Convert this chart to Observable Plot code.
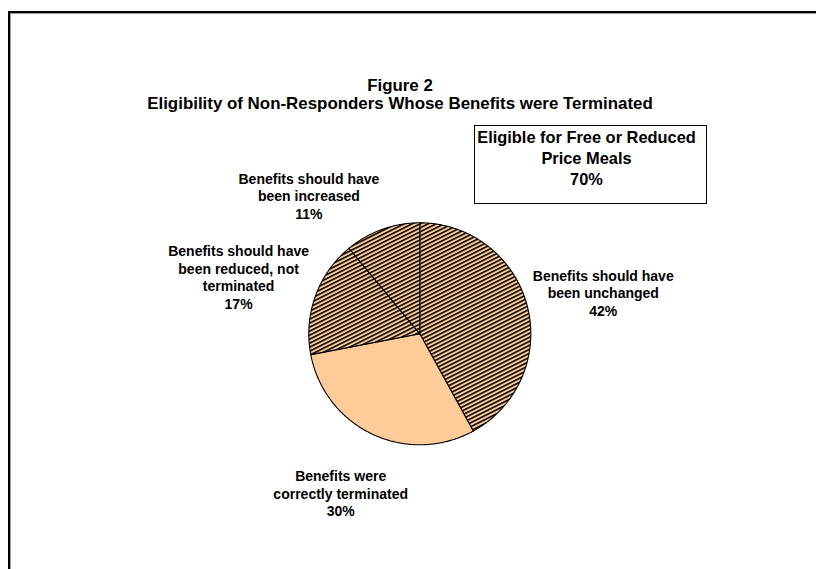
<!DOCTYPE html>
<html>
<head>
<meta charset="utf-8">
<script src="https://cdn.jsdelivr.net/npm/d3@7"></script>
<script src="https://cdn.jsdelivr.net/npm/@observablehq/plot@0.6"></script>
<style>
  html, body { margin: 0; padding: 0; background: #fff; overflow: hidden; }
  #wrap { position: relative; width: 816px; height: 569px; overflow: hidden;
          font-family: Arial, "Liberation Sans", sans-serif; color: #000; }
  .edge { position: absolute; background: #000; }
  .edge2 { position: absolute; background: #a0a0a0; }
  #title { position: absolute; left: 0; width: 800px; top: 77px; text-align: center;
           font-weight: bold; font-size: 16.9px; line-height: 17.5px; }
  #box { position: absolute; left: 474px; top: 125px; width: 233px; height: 79px;
         box-sizing: border-box; border: 1.3px solid #000; background: #fff;
         text-align: center; font-weight: bold; font-size: 16.4px; line-height: 21px;
         padding: 1px 8px 0 0; white-space: nowrap; }
  #chart { position: absolute; left: 0; top: 0; }
</style>
</head>
<body>
<div id="wrap">
  <div class="edge" style="left:8px; top:11px; width:808px; height:2px;"></div>
  <div class="edge" style="left:8px; top:11px; width:2px; height:558px;"></div>
  <div class="edge2" style="left:10px; top:13px; width:806px; height:1px;"></div>
  <div class="edge2" style="left:10px; top:13px; width:1px; height:556px;"></div>
  <div id="chart"></div>
  <div id="title"></div>
  <div id="box"></div>
</div>
<script>
// ---- data ----
const titleLines = ["Figure 2", "Eligibility of Non-Responders Whose Benefits were Terminated"];
const boxLines = ["Eligible for Free or Reduced", "Price Meals", "70%"];
const categories = [
  "Benefits should have\nbeen unchanged",
  "Benefits were\ncorrectly terminated",
  "Benefits should have\nbeen reduced, not\nterminated",
  "Benefits should have\nbeen increased"
];
const values = [42, 30, 17, 11];
const hatched = [true, false, true, true];

// ---- layout ----
const W = 816, H = 569;
const cx = 419.3, cy = 333.3, R = 111;
const labelRadius = [188, 178, 190, 177];
const labelAngleShift = [1.8, 1.2, -2.3, -19]; // degrees
const peach = "#FFCC99";

document.getElementById("title").innerHTML = titleLines.join("<br>");
document.getElementById("box").innerHTML = boxLines.join("<br>");

const arcs = d3.pie().sort(null).value(d => d)(values);
const toXY = (a, r) => [cx + r * Math.sin(a), cy - r * Math.cos(a)];

const rows = [];
arcs.forEach((a, i) => {
  const fill = hatched[i] ? "url(#hatch)" : peach;
  const [x0, y0] = toXY(0, 0);
  rows.push({slice: i, x: x0, y: y0, fill});
  const n = Math.max(2, Math.ceil((a.endAngle - a.startAngle) / (Math.PI / 360)));
  for (let k = 0; k <= n; k++) {
    const t = a.startAngle + (a.endAngle - a.startAngle) * k / n;
    const [x, y] = toXY(t, R);
    rows.push({slice: i, x, y, fill});
  }
});

const labels = arcs.map((a, i) => {
  const mid = (a.startAngle + a.endAngle) / 2 + labelAngleShift[i] * Math.PI / 180;
  const [x, y] = toXY(mid, labelRadius[i]);
  return {x, y, text: categories[i] + "\n" + values[i] + "%"};
});

const chart = Plot.plot({
  width: W, height: H,
  margin: 0,
  x: {domain: [0, W], range: [0, W], axis: null},
  y: {domain: [0, H], range: [0, H], axis: null},
  color: {type: "identity"},
  style: {background: "transparent", fontFamily: 'Arial, "Liberation Sans", sans-serif'},
  marks: [
    Plot.line(rows, {x: "x", y: "y", z: "slice", fill: "fill", stroke: "#000",
                     strokeWidth: 1.1, curve: "linear-closed", strokeLinejoin: "round"}),
    Plot.text(labels, {x: "x", y: "y", text: "text", fontSize: 14, fontWeight: "bold",
                       lineHeight: 1.25, fill: "#000", textAnchor: "middle"})
  ]
});

d3.select(chart).insert("defs", ":first-child").html(`
  <pattern id="hatch" patternUnits="userSpaceOnUse" width="10" height="3.58"
           patternTransform="rotate(-26.57)">
    <rect x="0" y="0" width="10" height="3.58" fill="${peach}"></rect>
    <rect x="0" y="0" width="10" height="1.6" fill="#000"></rect>
  </pattern>`);

document.getElementById("chart").appendChild(chart);
</script>
</body>
</html>
